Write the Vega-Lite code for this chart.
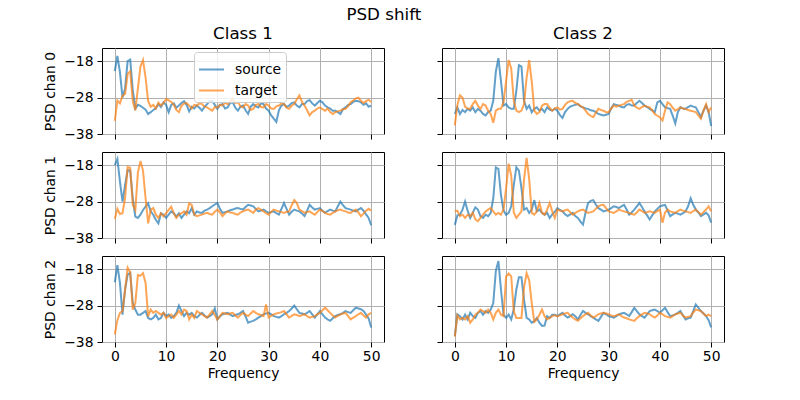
{
"$schema": "https://vega.github.io/schema/vega-lite/v6.json",
"padding": {"left": 43, "top": 7, "right": 5, "bottom": 5},
"title": {"text": "PSD shift", "anchor": "middle", "fontSize": 16.7, "fontWeight": "normal", "color": "black", "offset": 2},
"datasets": {
"c1_0": [
{"f":0,"source":-20.7,"target":-34.4},{"f":0.5,"source":-16.6,"target":-28.8},{"f":1,"source":-21.0,"target":-29.6},{"f":1.5,"source":-28.0,"target":-27.5},{"f":2,"source":-25.5,"target":-27.0},{"f":2.5,"source":-18.0,"target":-21.5},{"f":3,"source":-17.6,"target":-20.8},{"f":3.5,"source":-26.0,"target":-29.0},{"f":4,"source":-31.0,"target":-31.5},{"f":4.5,"source":-30.0,"target":-25.5},
{"f":5,"source":-30.3,"target":-19.5},{"f":5.5,"source":-30.8,"target":-17.7},{"f":6,"source":-31.3,"target":-22.5},{"f":6.5,"source":-32.5,"target":-29.0},{"f":7,"source":-32.0,"target":-30.5},{"f":7.5,"source":-31.4,"target":-30.0},{"f":8,"source":-31.0,"target":-31.0},{"f":8.5,"source":-29.8,"target":-29.4},{"f":9,"source":-30.6,"target":-30.2},{"f":9.5,"source":-29.3,"target":-29.5},
{"f":10,"source":-30.0,"target":-28.4},{"f":10.5,"source":-32.0,"target":-28.8},{"f":11,"source":-30.0,"target":-29.2},{"f":11.5,"source":-29.6,"target":-30.0},{"f":12,"source":-30.8,"target":-31.4},{"f":12.5,"source":-30.2,"target":-32.0},{"f":13,"source":-29.5,"target":-30.3},{"f":13.5,"source":-29.0,"target":-29.6},{"f":14,"source":-30.0,"target":-29.5},{"f":14.5,"source":-31.8,"target":-30.2},
{"f":15,"source":-30.5,"target":-31.0},{"f":15.5,"source":-31.0,"target":-30.0},{"f":16,"source":-30.2,"target":-30.2},{"f":16.5,"source":-30.8,"target":-29.6},{"f":17,"source":-31.6,"target":-29.8},{"f":17.5,"source":-30.5,"target":-30.5},{"f":18,"source":-29.8,"target":-30.7},{"f":18.5,"source":-29.0,"target":-31.2},{"f":19,"source":-28.9,"target":-31.6},{"f":19.5,"source":-30.0,"target":-30.6},
{"f":20,"source":-31.1,"target":-30.7},{"f":20.5,"source":-30.0,"target":-30.0},{"f":21,"source":-29.8,"target":-30.2},{"f":21.5,"source":-31.0,"target":-29.4},{"f":22,"source":-30.7,"target":-29.8},{"f":22.5,"source":-29.5,"target":-29.0},{"f":23,"source":-29.3,"target":-28.3},{"f":23.5,"source":-30.8,"target":-29.5},{"f":24,"source":-31.6,"target":-29.3},{"f":24.5,"source":-30.5,"target":-30.4},
{"f":25,"source":-30.2,"target":-30.7},{"f":25.5,"source":-31.5,"target":-29.8},{"f":26,"source":-32.5,"target":-30.2},{"f":26.5,"source":-30.5,"target":-31.4},{"f":27,"source":-29.8,"target":-31.1},{"f":27.5,"source":-30.4,"target":-30.0},{"f":28,"source":-30.7,"target":-29.8},{"f":28.5,"source":-29.6,"target":-30.6},{"f":29,"source":-29.8,"target":-30.7},{"f":29.5,"source":-31.0,"target":-29.8},
{"f":30,"source":-31.6,"target":-30.2},{"f":30.5,"source":-32.9,"target":-31.0},{"f":31,"source":-33.8,"target":-31.1},{"f":31.5,"source":-34.7,"target":-30.4},{"f":32,"source":-31.5,"target":-30.2},{"f":32.5,"source":-30.2,"target":-29.6},{"f":33,"source":-29.8,"target":-29.8},{"f":33.5,"source":-30.6,"target":-30.8},{"f":34,"source":-30.2,"target":-31.1},{"f":34.5,"source":-29.5,"target":-30.2},
{"f":35,"source":-29.3,"target":-29.8},{"f":35.5,"source":-30.2,"target":-28.5},{"f":36,"source":-30.7,"target":-27.4},{"f":36.5,"source":-29.8,"target":-29.2},{"f":37,"source":-29.8,"target":-30.2},{"f":37.5,"source":-29.0,"target":-31.5},{"f":38,"source":-28.7,"target":-32.9},{"f":38.5,"source":-29.6,"target":-32.0},{"f":39,"source":-30.2,"target":-31.6},{"f":39.5,"source":-29.5,"target":-31.0},
{"f":40,"source":-28.9,"target":-30.7},{"f":40.5,"source":-29.3,"target":-31.2},{"f":41,"source":-30.2,"target":-31.6},{"f":41.5,"source":-30.7,"target":-31.0},{"f":42,"source":-31.0,"target":-32.0},{"f":42.5,"source":-31.6,"target":-32.5},{"f":43,"source":-31.6,"target":-32.0},{"f":43.5,"source":-32.0,"target":-31.8},{"f":44,"source":-32.5,"target":-31.6},{"f":44.5,"source":-31.2,"target":-31.2},
{"f":45,"source":-30.7,"target":-31.1},{"f":45.5,"source":-30.0,"target":-30.4},{"f":46,"source":-29.8,"target":-29.3},{"f":46.5,"source":-29.2,"target":-28.8},{"f":47,"source":-28.9,"target":-28.2},{"f":47.5,"source":-29.0,"target":-28.0},{"f":48,"source":-29.3,"target":-28.9},{"f":48.5,"source":-30.0,"target":-29.5},{"f":49,"source":-29.6,"target":-29.0},{"f":49.5,"source":-30.5,"target":-28.6},
{"f":50,"source":-30.2,"target":-29.2}
],
"c2_0": [
{"f":0,"source":-32.5,"target":-35.6},{"f":0.5,"source":-30.7,"target":-30.0},{"f":1,"source":-32.5,"target":-27.4},{"f":1.5,"source":-31.4,"target":-28.0},{"f":2,"source":-32.0,"target":-30.5},{"f":2.5,"source":-31.1,"target":-31.0},{"f":3,"source":-31.6,"target":-31.1},{"f":3.5,"source":-30.7,"target":-29.8},{"f":4,"source":-32.0,"target":-28.9},{"f":4.5,"source":-31.1,"target":-30.2},
{"f":5,"source":-31.6,"target":-31.1},{"f":5.5,"source":-32.5,"target":-29.8},{"f":6,"source":-32.9,"target":-30.2},{"f":6.5,"source":-32.0,"target":-31.6},{"f":7,"source":-31.6,"target":-32.5},{"f":7.5,"source":-28.9,"target":-34.9},{"f":8,"source":-20.9,"target":-31.6},{"f":8.5,"source":-17.2,"target":-31.1},{"f":9,"source":-23.5,"target":-31.1},{"f":9.5,"source":-30.2,"target":-29.3},
{"f":10,"source":-29.8,"target":-23.5},{"f":10.5,"source":-30.7,"target":-17.7},{"f":11,"source":-31.1,"target":-20.0},{"f":11.5,"source":-31.1,"target":-28.9},{"f":12,"source":-26.2,"target":-31.6},{"f":12.5,"source":-19.1,"target":-32.0},{"f":13,"source":-19.5,"target":-31.6},{"f":13.5,"source":-28.9,"target":-29.8},{"f":14,"source":-31.1,"target":-22.6},{"f":14.5,"source":-30.2,"target":-17.7},
{"f":15,"source":-32.0,"target":-23.5},{"f":15.5,"source":-31.1,"target":-31.6},{"f":16,"source":-30.7,"target":-32.5},{"f":16.5,"source":-31.6,"target":-32.0},{"f":17,"source":-31.1,"target":-30.2},{"f":17.5,"source":-32.0,"target":-29.8},{"f":18,"source":-30.7,"target":-29.8},{"f":18.5,"source":-31.3,"target":-30.8},{"f":19,"source":-31.6,"target":-31.6},{"f":19.5,"source":-31.0,"target":-31.0},
{"f":20,"source":-31.6,"target":-30.7},{"f":20.5,"source":-32.8,"target":-31.3},{"f":21,"source":-33.6,"target":-31.1},{"f":21.5,"source":-32.0,"target":-30.0},{"f":22,"source":-31.1,"target":-29.3},{"f":22.5,"source":-30.5,"target":-29.0},{"f":23,"source":-30.2,"target":-28.9},{"f":23.5,"source":-30.0,"target":-29.5},{"f":24,"source":-29.8,"target":-29.8},{"f":24.5,"source":-30.4,"target":-30.3},
{"f":25,"source":-30.7,"target":-30.7},{"f":25.5,"source":-31.0,"target":-31.6},{"f":26,"source":-31.1,"target":-32.5},{"f":26.5,"source":-31.5,"target":-33.0},{"f":27,"source":-31.6,"target":-33.4},{"f":27.5,"source":-32.0,"target":-32.2},{"f":28,"source":-32.5,"target":-31.1},{"f":28.5,"source":-32.7,"target":-31.4},{"f":29,"source":-32.9,"target":-31.6},{"f":29.5,"source":-32.7,"target":-32.0},
{"f":30,"source":-32.5,"target":-32.0},{"f":30.5,"source":-31.0,"target":-31.0},{"f":31,"source":-29.8,"target":-30.2},{"f":31.5,"source":-30.0,"target":-30.5},{"f":32,"source":-30.2,"target":-30.2},{"f":32.5,"source":-30.6,"target":-30.0},{"f":33,"source":-30.7,"target":-29.8},{"f":33.5,"source":-30.0,"target":-29.2},{"f":34,"source":-29.8,"target":-28.9},{"f":34.5,"source":-30.2,"target":-28.6},
{"f":35,"source":-30.2,"target":-30.2},{"f":35.5,"source":-29.5,"target":-30.8},{"f":36,"source":-28.9,"target":-31.1},{"f":36.5,"source":-29.5,"target":-30.6},{"f":37,"source":-30.2,"target":-30.2},{"f":37.5,"source":-30.6,"target":-30.5},{"f":38,"source":-31.1,"target":-30.7},{"f":38.5,"source":-31.5,"target":-31.5},{"f":39,"source":-32.0,"target":-32.5},{"f":39.5,"source":-29.3,"target":-33.0},
{"f":40,"source":-28.9,"target":-33.4},{"f":40.5,"source":-29.8,"target":-34.3},{"f":41,"source":-30.7,"target":-31.6},{"f":41.5,"source":-30.9,"target":-29.3},{"f":42,"source":-31.1,"target":-29.8},{"f":42.5,"source":-33.0,"target":-30.8},{"f":43,"source":-35.1,"target":-31.6},{"f":43.5,"source":-32.0,"target":-31.2},{"f":44,"source":-30.7,"target":-30.7},{"f":44.5,"source":-31.0,"target":-31.0},
{"f":45,"source":-31.1,"target":-31.1},{"f":45.5,"source":-30.6,"target":-31.4},{"f":46,"source":-30.2,"target":-31.6},{"f":46.5,"source":-30.5,"target":-31.8},{"f":47,"source":-30.7,"target":-32.0},{"f":47.5,"source":-32.0,"target":-32.9},{"f":48,"source":-33.4,"target":-33.8},{"f":48.5,"source":-31.6,"target":-31.6},{"f":49,"source":-30.2,"target":-29.8},{"f":49.5,"source":-32.0,"target":-32.0},
{"f":50,"source":-35.8,"target":-30.7}
],
"c1_1": [
{"f":0,"source":-18.0,"target":-32.8},{"f":0.5,"source":-16.3,"target":-30.0},{"f":1,"source":-22.5,"target":-31.4},{"f":1.5,"source":-28.0,"target":-31.2},{"f":2,"source":-23.5,"target":-27.1},{"f":2.5,"source":-19.4,"target":-18.5},{"f":3,"source":-19.5,"target":-18.7},{"f":3.5,"source":-27.1,"target":-28.9},{"f":4,"source":-32.1,"target":-30.3},{"f":4.5,"source":-32.5,"target":-20.0},
{"f":5,"source":-31.6,"target":-16.9},{"f":5.5,"source":-30.3,"target":-19.5},{"f":6,"source":-29.4,"target":-27.1},{"f":6.5,"source":-28.5,"target":-34.0},{"f":7,"source":-30.7,"target":-30.3},{"f":7.5,"source":-31.6,"target":-29.8},{"f":8,"source":-33.0,"target":-31.6},{"f":8.5,"source":-34.0,"target":-32.5},{"f":9,"source":-31.2,"target":-31.2},{"f":9.5,"source":-31.6,"target":-32.1},
{"f":10,"source":-32.5,"target":-31.2},{"f":10.5,"source":-31.6,"target":-30.3},{"f":11,"source":-30.7,"target":-29.4},{"f":11.5,"source":-31.2,"target":-31.2},{"f":12,"source":-32.1,"target":-32.5},{"f":12.5,"source":-31.2,"target":-31.6},{"f":13,"source":-32.5,"target":-31.2},{"f":13.5,"source":-31.6,"target":-30.7},{"f":14,"source":-30.7,"target":-31.6},{"f":14.5,"source":-31.2,"target":-28.5},
{"f":15,"source":-29.8,"target":-28.9},{"f":15.5,"source":-31.6,"target":-31.6},{"f":16,"source":-30.7,"target":-32.0},{"f":16.5,"source":-31.0,"target":-31.8},{"f":17,"source":-31.1,"target":-31.6},{"f":17.5,"source":-30.5,"target":-31.3},{"f":18,"source":-30.2,"target":-31.1},{"f":18.5,"source":-29.8,"target":-31.4},{"f":19,"source":-29.3,"target":-31.6},{"f":19.5,"source":-28.8,"target":-30.8},
{"f":20,"source":-28.4,"target":-30.2},{"f":20.5,"source":-30.0,"target":-31.0},{"f":21,"source":-31.1,"target":-32.0},{"f":21.5,"source":-30.9,"target":-31.2},{"f":22,"source":-30.7,"target":-30.7},{"f":22.5,"source":-30.4,"target":-31.0},{"f":23,"source":-30.2,"target":-31.1},{"f":23.5,"source":-29.9,"target":-31.4},{"f":24,"source":-29.8,"target":-31.6},{"f":24.5,"source":-30.0,"target":-31.0},
{"f":25,"source":-30.2,"target":-30.7},{"f":25.5,"source":-29.5,"target":-30.4},{"f":26,"source":-28.9,"target":-30.2},{"f":26.5,"source":-29.1,"target":-30.6},{"f":27,"source":-29.3,"target":-31.1},{"f":27.5,"source":-30.0,"target":-30.2},{"f":28,"source":-30.7,"target":-29.8},{"f":28.5,"source":-30.5,"target":-30.2},{"f":29,"source":-30.2,"target":-30.7},{"f":29.5,"source":-30.7,"target":-31.2},
{"f":30,"source":-31.1,"target":-31.6},{"f":30.5,"source":-30.9,"target":-30.8},{"f":31,"source":-30.7,"target":-30.2},{"f":31.5,"source":-31.2,"target":-30.5},{"f":32,"source":-31.6,"target":-30.7},{"f":32.5,"source":-30.0,"target":-30.9},{"f":33,"source":-28.4,"target":-31.1},{"f":33.5,"source":-30.0,"target":-30.8},{"f":34,"source":-31.6,"target":-30.7},{"f":34.5,"source":-30.8,"target":-29.0},
{"f":35,"source":-30.2,"target":-27.6},{"f":35.5,"source":-30.5,"target":-28.4},{"f":36,"source":-30.7,"target":-30.2},{"f":36.5,"source":-31.3,"target":-30.6},{"f":37,"source":-32.0,"target":-31.1},{"f":37.5,"source":-30.5,"target":-30.9},{"f":38,"source":-28.9,"target":-30.7},{"f":38.5,"source":-29.6,"target":-31.2},{"f":39,"source":-30.2,"target":-31.6},{"f":39.5,"source":-30.0,"target":-30.9},
{"f":40,"source":-29.8,"target":-30.2},{"f":40.5,"source":-30.5,"target":-30.6},{"f":41,"source":-31.1,"target":-31.1},{"f":41.5,"source":-30.6,"target":-31.4},{"f":42,"source":-30.2,"target":-31.6},{"f":42.5,"source":-30.5,"target":-31.1},{"f":43,"source":-30.7,"target":-30.7},{"f":43.5,"source":-29.3,"target":-30.4},{"f":44,"source":-28.0,"target":-30.2},{"f":44.5,"source":-29.0,"target":-30.5},
{"f":45,"source":-29.8,"target":-30.7},{"f":45.5,"source":-30.0,"target":-31.0},{"f":46,"source":-30.2,"target":-31.1},{"f":46.5,"source":-30.5,"target":-30.6},{"f":47,"source":-30.7,"target":-30.2},{"f":47.5,"source":-30.2,"target":-31.0},{"f":48,"source":-29.8,"target":-32.0},{"f":48.5,"source":-30.5,"target":-31.3},{"f":49,"source":-31.5,"target":-30.5},{"f":49.5,"source":-32.5,"target":-30.0},
{"f":50,"source":-34.5,"target":-30.5}
],
"c2_1": [
{"f":0,"source":-34.4,"target":-30.7},{"f":0.5,"source":-31.8,"target":-30.5},{"f":1,"source":-31.6,"target":-32.0},{"f":1.5,"source":-30.2,"target":-31.6},{"f":2,"source":-28.0,"target":-32.5},{"f":2.5,"source":-30.5,"target":-31.6},{"f":3,"source":-32.5,"target":-32.0},{"f":3.5,"source":-31.1,"target":-31.1},{"f":4,"source":-29.6,"target":-32.9},{"f":4.5,"source":-30.2,"target":-33.4},
{"f":5,"source":-32.0,"target":-32.5},{"f":5.5,"source":-32.5,"target":-31.6},{"f":6,"source":-31.6,"target":-30.7},{"f":6.5,"source":-32.0,"target":-30.2},{"f":7,"source":-31.1,"target":-29.8},{"f":7.5,"source":-27.1,"target":-30.7},{"f":8,"source":-18.6,"target":-31.6},{"f":8.5,"source":-19.0,"target":-31.1},{"f":9,"source":-26.2,"target":-31.6},{"f":9.5,"source":-30.4,"target":-30.2},
{"f":10,"source":-31.6,"target":-24.4},{"f":10.5,"source":-31.1,"target":-17.6},{"f":11,"source":-29.3,"target":-20.9},{"f":11.5,"source":-23.5,"target":-31.0},{"f":12,"source":-18.6,"target":-32.5},{"f":12.5,"source":-19.5,"target":-31.6},{"f":13,"source":-24.4,"target":-30.7},{"f":13.5,"source":-30.2,"target":-22.0},{"f":14,"source":-29.8,"target":-16.0},{"f":14.5,"source":-31.1,"target":-21.8},
{"f":15,"source":-30.2,"target":-31.1},{"f":15.5,"source":-27.6,"target":-31.6},{"f":16,"source":-30.7,"target":-30.7},{"f":16.5,"source":-30.2,"target":-28.4},{"f":17,"source":-31.1,"target":-31.1},{"f":17.5,"source":-31.6,"target":-31.6},{"f":18,"source":-31.1,"target":-30.2},{"f":18.5,"source":-32.5,"target":-28.4},{"f":19,"source":-31.5,"target":-30.7},{"f":19.5,"source":-30.8,"target":-32.5},
{"f":20,"source":-29.8,"target":-30.2},{"f":20.5,"source":-30.3,"target":-30.5},{"f":21,"source":-30.7,"target":-30.7},{"f":21.5,"source":-31.5,"target":-30.4},{"f":22,"source":-32.0,"target":-30.2},{"f":22.5,"source":-31.5,"target":-30.9},{"f":23,"source":-31.1,"target":-31.6},{"f":23.5,"source":-32.0,"target":-31.1},{"f":24,"source":-32.5,"target":-30.7},{"f":24.5,"source":-33.5,"target":-30.4},
{"f":25,"source":-34.3,"target":-30.2},{"f":25.5,"source":-31.0,"target":-30.7},{"f":26,"source":-28.4,"target":-31.1},{"f":26.5,"source":-27.8,"target":-30.9},{"f":27,"source":-27.6,"target":-30.7},{"f":27.5,"source":-28.8,"target":-30.0},{"f":28,"source":-29.8,"target":-29.3},{"f":28.5,"source":-30.2,"target":-29.0},{"f":29,"source":-30.7,"target":-28.9},{"f":29.5,"source":-30.5,"target":-29.8},
{"f":30,"source":-30.2,"target":-30.7},{"f":30.5,"source":-29.8,"target":-30.9},{"f":31,"source":-29.3,"target":-31.1},{"f":31.5,"source":-29.5,"target":-30.7},{"f":32,"source":-29.8,"target":-30.2},{"f":32.5,"source":-29.3,"target":-30.5},{"f":33,"source":-28.9,"target":-30.7},{"f":33.5,"source":-30.2,"target":-30.9},{"f":34,"source":-31.6,"target":-31.1},{"f":34.5,"source":-31.0,"target":-31.4},
{"f":35,"source":-30.2,"target":-31.6},{"f":35.5,"source":-29.3,"target":-31.0},{"f":36,"source":-28.4,"target":-30.2},{"f":36.5,"source":-29.5,"target":-30.6},{"f":37,"source":-30.7,"target":-31.1},{"f":37.5,"source":-31.8,"target":-30.9},{"f":38,"source":-32.9,"target":-30.7},{"f":38.5,"source":-31.8,"target":-30.9},{"f":39,"source":-30.7,"target":-31.1},{"f":39.5,"source":-30.0,"target":-30.6},
{"f":40,"source":-29.3,"target":-30.2},{"f":40.5,"source":-29.1,"target":-33.8},{"f":41,"source":-28.9,"target":-31.0},{"f":41.5,"source":-30.5,"target":-30.2},{"f":42,"source":-32.0,"target":-30.7},{"f":42.5,"source":-31.5,"target":-30.9},{"f":43,"source":-31.1,"target":-31.1},{"f":43.5,"source":-31.3,"target":-30.6},{"f":44,"source":-31.6,"target":-30.2},{"f":44.5,"source":-31.2,"target":-30.5},
{"f":45,"source":-30.7,"target":-30.7},{"f":45.5,"source":-29.3,"target":-30.9},{"f":46,"source":-27.1,"target":-31.1},{"f":46.5,"source":-28.9,"target":-30.6},{"f":47,"source":-30.2,"target":-30.2},{"f":47.5,"source":-31.0,"target":-30.9},{"f":48,"source":-32.0,"target":-31.6},{"f":48.5,"source":-31.5,"target":-30.9},{"f":49,"source":-31.1,"target":-30.2},{"f":49.5,"source":-31.8,"target":-29.3},
{"f":50,"source":-33.8,"target":-30.7}
],
"c1_2": [
{"f":0,"source":-21.6,"target":-35.9},{"f":0.5,"source":-16.9,"target":-32.0},{"f":1,"source":-21.8,"target":-30.0},{"f":1.5,"source":-30.5,"target":-29.5},{"f":2,"source":-23.6,"target":-23.6},{"f":2.5,"source":-19.5,"target":-17.6},{"f":3,"source":-19.0,"target":-18.9},{"f":3.5,"source":-27.3,"target":-29.1},{"f":4,"source":-29.1,"target":-27.3},{"f":4.5,"source":-30.5,"target":-19.6},
{"f":5,"source":-30.5,"target":-19.8},{"f":5.5,"source":-30.0,"target":-19.1},{"f":6,"source":-29.5,"target":-21.8},{"f":6.5,"source":-31.4,"target":-31.0},{"f":7,"source":-31.8,"target":-29.1},{"f":7.5,"source":-31.4,"target":-30.0},{"f":8,"source":-30.5,"target":-29.5},{"f":8.5,"source":-31.8,"target":-30.0},{"f":9,"source":-31.4,"target":-30.5},{"f":9.5,"source":-30.0,"target":-30.0},
{"f":10,"source":-30.9,"target":-31.4},{"f":10.5,"source":-30.5,"target":-30.9},{"f":11,"source":-31.4,"target":-30.5},{"f":11.5,"source":-30.9,"target":-31.4},{"f":12,"source":-30.0,"target":-30.5},{"f":12.5,"source":-28.0,"target":-29.5},{"f":13,"source":-29.5,"target":-30.5},{"f":13.5,"source":-30.9,"target":-29.1},{"f":14,"source":-30.0,"target":-29.5},{"f":14.5,"source":-30.5,"target":-31.8},
{"f":15,"source":-30.0,"target":-30.5},{"f":15.5,"source":-30.9,"target":-31.4},{"f":16,"source":-31.3,"target":-29.5},{"f":16.5,"source":-30.6,"target":-30.0},{"f":17,"source":-30.0,"target":-30.4},{"f":17.5,"source":-30.7,"target":-30.9},{"f":18,"source":-31.3,"target":-31.3},{"f":18.5,"source":-30.9,"target":-30.4},{"f":19,"source":-30.4,"target":-29.5},{"f":19.5,"source":-28.8,"target":-30.6},
{"f":20,"source":-31.8,"target":-31.8},{"f":20.5,"source":-31.0,"target":-30.9},{"f":21,"source":-30.4,"target":-30.0},{"f":21.5,"source":-30.2,"target":-30.2},{"f":22,"source":-30.0,"target":-30.4},{"f":22.5,"source":-30.5,"target":-30.2},{"f":23,"source":-30.9,"target":-30.0},{"f":23.5,"source":-30.6,"target":-30.7},{"f":24,"source":-30.4,"target":-31.3},{"f":24.5,"source":-30.0,"target":-30.6},
{"f":25,"source":-29.5,"target":-30.0},{"f":25.5,"source":-31.0,"target":-30.5},{"f":26,"source":-32.7,"target":-30.9},{"f":26.5,"source":-32.4,"target":-30.2},{"f":27,"source":-32.2,"target":-29.5},{"f":27.5,"source":-31.8,"target":-30.0},{"f":28,"source":-31.3,"target":-30.4},{"f":28.5,"source":-30.9,"target":-30.6},{"f":29,"source":-30.4,"target":-30.9},{"f":29.5,"source":-30.2,"target":-27.7},
{"f":30,"source":-30.0,"target":-31.3},{"f":30.5,"source":-30.4,"target":-30.8},{"f":31,"source":-30.9,"target":-30.4},{"f":31.5,"source":-31.1,"target":-30.2},{"f":32,"source":-31.3,"target":-30.0},{"f":32.5,"source":-30.9,"target":-29.8},{"f":33,"source":-30.4,"target":-29.5},{"f":33.5,"source":-30.0,"target":-30.4},{"f":34,"source":-29.5,"target":-31.3},{"f":34.5,"source":-28.8,"target":-30.8},
{"f":35,"source":-28.0,"target":-30.4},{"f":35.5,"source":-29.0,"target":-30.6},{"f":36,"source":-30.0,"target":-30.9},{"f":36.5,"source":-30.2,"target":-30.6},{"f":37,"source":-30.4,"target":-30.4},{"f":37.5,"source":-30.0,"target":-30.9},{"f":38,"source":-29.5,"target":-31.3},{"f":38.5,"source":-30.4,"target":-31.1},{"f":39,"source":-31.3,"target":-30.9},{"f":39.5,"source":-30.4,"target":-30.4},
{"f":40,"source":-29.5,"target":-30.0},{"f":40.5,"source":-30.4,"target":-29.3},{"f":41,"source":-31.3,"target":-28.6},{"f":41.5,"source":-31.8,"target":-29.3},{"f":42,"source":-32.2,"target":-30.0},{"f":42.5,"source":-31.5,"target":-30.7},{"f":43,"source":-30.9,"target":-31.3},{"f":43.5,"source":-30.6,"target":-30.8},{"f":44,"source":-30.4,"target":-30.4},{"f":44.5,"source":-30.0,"target":-30.2},
{"f":45,"source":-29.5,"target":-30.0},{"f":45.5,"source":-29.8,"target":-30.9},{"f":46,"source":-30.0,"target":-31.8},{"f":46.5,"source":-29.3,"target":-31.3},{"f":47,"source":-28.6,"target":-30.9},{"f":47.5,"source":-28.8,"target":-30.4},{"f":48,"source":-29.0,"target":-30.0},{"f":48.5,"source":-29.5,"target":-30.7},{"f":49,"source":-30.5,"target":-31.3},{"f":49.5,"source":-31.5,"target":-30.4},
{"f":50,"source":-34.0,"target":-30.0}
],
"c2_2": [
{"f":0,"source":-36.4,"target":-36.5},{"f":0.5,"source":-30.4,"target":-30.7},{"f":1,"source":-30.9,"target":-31.8},{"f":1.5,"source":-31.8,"target":-31.4},{"f":2,"source":-30.5,"target":-31.8},{"f":2.5,"source":-31.8,"target":-30.9},{"f":3,"source":-30.0,"target":-32.7},{"f":3.5,"source":-30.9,"target":-31.8},{"f":4,"source":-31.4,"target":-30.5},{"f":4.5,"source":-30.0,"target":-30.0},
{"f":5,"source":-29.5,"target":-29.1},{"f":5.5,"source":-30.5,"target":-29.5},{"f":6,"source":-29.5,"target":-30.0},{"f":6.5,"source":-30.0,"target":-29.1},{"f":7,"source":-29.1,"target":-30.0},{"f":7.5,"source":-27.3,"target":-31.8},{"f":8,"source":-18.5,"target":-30.0},{"f":8.5,"source":-15.8,"target":-29.1},{"f":9,"source":-23.6,"target":-30.5},{"f":9.5,"source":-30.5,"target":-30.9},
{"f":10,"source":-31.4,"target":-20.0},{"f":10.5,"source":-30.5,"target":-19.2},{"f":11,"source":-31.8,"target":-20.0},{"f":11.5,"source":-29.0,"target":-29.5},{"f":12,"source":-23.6,"target":-31.4},{"f":12.5,"source":-20.2,"target":-31.4},{"f":13,"source":-20.2,"target":-31.4},{"f":13.5,"source":-26.4,"target":-23.0},{"f":14,"source":-31.4,"target":-19.1},{"f":14.5,"source":-31.8,"target":-21.0},
{"f":15,"source":-32.7,"target":-27.3},{"f":15.5,"source":-32.3,"target":-32.5},{"f":16,"source":-31.4,"target":-31.8},{"f":16.5,"source":-32.7,"target":-30.5},{"f":17,"source":-33.6,"target":-29.1},{"f":17.5,"source":-33.5,"target":-30.9},{"f":18,"source":-30.9,"target":-31.8},{"f":18.5,"source":-31.4,"target":-31.4},{"f":19,"source":-30.5,"target":-30.9},{"f":19.5,"source":-30.5,"target":-30.7},
{"f":20,"source":-30.9,"target":-30.9},{"f":20.5,"source":-30.4,"target":-30.7},{"f":21,"source":-30.0,"target":-30.4},{"f":21.5,"source":-30.7,"target":-30.2},{"f":22,"source":-31.3,"target":-30.0},{"f":22.5,"source":-30.9,"target":-30.7},{"f":23,"source":-30.4,"target":-31.3},{"f":23.5,"source":-30.9,"target":-31.8},{"f":24,"source":-31.8,"target":-32.2},{"f":24.5,"source":-30.6,"target":-31.5},
{"f":25,"source":-29.5,"target":-30.9},{"f":25.5,"source":-30.0,"target":-30.4},{"f":26,"source":-30.4,"target":-30.0},{"f":26.5,"source":-30.9,"target":-30.7},{"f":27,"source":-31.3,"target":-31.3},{"f":27.5,"source":-31.8,"target":-30.9},{"f":28,"source":-32.2,"target":-30.4},{"f":28.5,"source":-31.1,"target":-30.2},{"f":29,"source":-30.0,"target":-30.0},{"f":29.5,"source":-30.4,"target":-30.2},
{"f":30,"source":-30.9,"target":-30.4},{"f":30.5,"source":-31.1,"target":-30.7},{"f":31,"source":-31.3,"target":-30.9},{"f":31.5,"source":-30.9,"target":-30.7},{"f":32,"source":-30.4,"target":-30.4},{"f":32.5,"source":-30.2,"target":-30.9},{"f":33,"source":-30.0,"target":-31.3},{"f":33.5,"source":-30.4,"target":-31.5},{"f":34,"source":-30.9,"target":-31.8},{"f":34.5,"source":-29.8,"target":-32.0},
{"f":35,"source":-28.6,"target":-32.2},{"f":35.5,"source":-29.5,"target":-31.5},{"f":36,"source":-30.4,"target":-30.9},{"f":36.5,"source":-30.9,"target":-30.4},{"f":37,"source":-31.3,"target":-30.0},{"f":37.5,"source":-30.4,"target":-30.2},{"f":38,"source":-29.5,"target":-30.4},{"f":38.5,"source":-29.3,"target":-30.9},{"f":39,"source":-29.1,"target":-31.3},{"f":39.5,"source":-29.5,"target":-30.7},
{"f":40,"source":-30.0,"target":-30.0},{"f":40.5,"source":-29.3,"target":-30.4},{"f":41,"source":-28.6,"target":-30.9},{"f":41.5,"source":-29.8,"target":-31.1},{"f":42,"source":-30.9,"target":-31.3},{"f":42.5,"source":-30.7,"target":-30.9},{"f":43,"source":-30.4,"target":-30.4},{"f":43.5,"source":-30.0,"target":-30.2},{"f":44,"source":-29.5,"target":-30.0},{"f":44.5,"source":-30.7,"target":-30.7},
{"f":45,"source":-31.8,"target":-31.3},{"f":45.5,"source":-31.5,"target":-31.1},{"f":46,"source":-31.3,"target":-30.9},{"f":46.5,"source":-29.5,"target":-29.9},{"f":47,"source":-27.7,"target":-29.1},{"f":47.5,"source":-28.6,"target":-29.3},{"f":48,"source":-29.5,"target":-29.5},{"f":48.5,"source":-30.2,"target":-30.2},{"f":49,"source":-30.9,"target":-30.9},{"f":49.5,"source":-32.0,"target":-30.5},
{"f":50,"source":-34.0,"target":-30.9}
]
},
"vconcat": [
{"hconcat": [
{"data": {"name": "c1_0"}, "width": 282, "height": 86, "title": {"text": "Class 1", "offset": 5},
 "transform": [{"fold": ["source", "target"], "as": ["series", "psd"]}],
 "mark": {"type": "line", "strokeWidth": 2, "opacity": 0.7, "clip": true},
 "encoding": {
  "x": {"field": "f", "type": "quantitative", "scale": {"domain": [-2.5, 52.5], "nice": false, "zero": false}, "axis": {"values": [0,10,20,30,40,50], "labels": false, "title": null}},
  "y": {"field": "psd", "type": "quantitative", "scale": {"domain": [-38, -14.4], "nice": false, "zero": false}, "axis": {"values": [-38,-28,-18], "title": "PSD chan 0"}},
  "color": {"field": "series", "type": "nominal", "scale": {"domain": ["source", "target"], "range": ["#1f77b4", "#ff7f0e"]},
   "legend": {"orient": "none", "legendX": 92, "legendY": 4, "title": null}}
 }},
{"data": {"name": "c2_0"}, "width": 282, "height": 86, "title": {"text": "Class 2", "offset": 5},
 "transform": [{"fold": ["source", "target"], "as": ["series", "psd"]}],
 "mark": {"type": "line", "strokeWidth": 2, "opacity": 0.7, "clip": true},
 "encoding": {
  "x": {"field": "f", "type": "quantitative", "scale": {"domain": [-2.5, 52.5], "nice": false, "zero": false}, "axis": {"values": [0,10,20,30,40,50], "labels": false, "title": null}},
  "y": {"field": "psd", "type": "quantitative", "scale": {"domain": [-38, -14.4], "nice": false, "zero": false}, "axis": {"values": [-38,-28,-18], "labels": false, "title": null}},
  "color": {"field": "series", "type": "nominal", "scale": {"domain": ["source", "target"], "range": ["#1f77b4", "#ff7f0e"]}}
 }}
]},
{"hconcat": [
{"data": {"name": "c1_1"}, "width": 282, "height": 86,
 "transform": [{"fold": ["source", "target"], "as": ["series", "psd"]}],
 "mark": {"type": "line", "strokeWidth": 2, "opacity": 0.7, "clip": true},
 "encoding": {
  "x": {"field": "f", "type": "quantitative", "scale": {"domain": [-2.5, 52.5], "nice": false, "zero": false}, "axis": {"values": [0,10,20,30,40,50], "labels": false, "title": null}},
  "y": {"field": "psd", "type": "quantitative", "scale": {"domain": [-38, -14.4], "nice": false, "zero": false}, "axis": {"values": [-38,-28,-18], "title": "PSD chan 1"}},
  "color": {"field": "series", "type": "nominal", "scale": {"domain": ["source", "target"], "range": ["#1f77b4", "#ff7f0e"]}}
 }},
{"data": {"name": "c2_1"}, "width": 282, "height": 86,
 "transform": [{"fold": ["source", "target"], "as": ["series", "psd"]}],
 "mark": {"type": "line", "strokeWidth": 2, "opacity": 0.7, "clip": true},
 "encoding": {
  "x": {"field": "f", "type": "quantitative", "scale": {"domain": [-2.5, 52.5], "nice": false, "zero": false}, "axis": {"values": [0,10,20,30,40,50], "labels": false, "title": null}},
  "y": {"field": "psd", "type": "quantitative", "scale": {"domain": [-38, -14.4], "nice": false, "zero": false}, "axis": {"values": [-38,-28,-18], "labels": false, "title": null}},
  "color": {"field": "series", "type": "nominal", "scale": {"domain": ["source", "target"], "range": ["#1f77b4", "#ff7f0e"]}}
 }}
]},
{"hconcat": [
{"data": {"name": "c1_2"}, "width": 282, "height": 86,
 "transform": [{"fold": ["source", "target"], "as": ["series", "psd"]}],
 "mark": {"type": "line", "strokeWidth": 2, "opacity": 0.7, "clip": true},
 "encoding": {
  "x": {"field": "f", "type": "quantitative", "scale": {"domain": [-2.5, 52.5], "nice": false, "zero": false}, "axis": {"values": [0,10,20,30,40,50], "title": "Frequency", "labelPadding": 2, "titlePadding": 4}},
  "y": {"field": "psd", "type": "quantitative", "scale": {"domain": [-38, -14.4], "nice": false, "zero": false}, "axis": {"values": [-38,-28,-18], "title": "PSD chan 2"}},
  "color": {"field": "series", "type": "nominal", "scale": {"domain": ["source", "target"], "range": ["#1f77b4", "#ff7f0e"]}}
 }},
{"data": {"name": "c2_2"}, "width": 282, "height": 86,
 "transform": [{"fold": ["source", "target"], "as": ["series", "psd"]}],
 "mark": {"type": "line", "strokeWidth": 2, "opacity": 0.7, "clip": true},
 "encoding": {
  "x": {"field": "f", "type": "quantitative", "scale": {"domain": [-2.5, 52.5], "nice": false, "zero": false}, "axis": {"values": [0,10,20,30,40,50], "title": "Frequency", "labelPadding": 2, "titlePadding": 4}},
  "y": {"field": "psd", "type": "quantitative", "scale": {"domain": [-38, -14.4], "nice": false, "zero": false}, "axis": {"values": [-38,-28,-18], "labels": false, "title": null}},
  "color": {"field": "series", "type": "nominal", "scale": {"domain": ["source", "target"], "range": ["#1f77b4", "#ff7f0e"]}}
 }}
]}
],
"spacing": 9,
"config": {
 "font": "DejaVu Sans",
 "concat": {"spacing": 51},
 "view": {"stroke": "black", "strokeWidth": 1},
 "axis": {"domain": false, "grid": true, "gridColor": "#b0b0b0", "gridWidth": 1, "tickColor": "black", "tickSize": 5, "tickWidth": 1, "labelFontSize": 13.9, "labelColor": "black", "labelPadding": 4, "titleFontSize": 13.9, "titleFontWeight": "normal", "titleColor": "black", "titlePadding": 6, "labelFlush": false},
 "title": {"fontSize": 16.7, "fontWeight": "normal", "color": "black", "offset": 6},
 "legend": {"symbolType": "stroke", "symbolSize": 625, "symbolStrokeWidth": 2, "labelFontSize": 13.9, "labelColor": "black", "labelOffset": 10, "fillColor": "rgba(255,255,255,0.8)", "strokeColor": "#cccccc", "cornerRadius": 3, "padding": 4, "rowPadding": -5}
}
}
